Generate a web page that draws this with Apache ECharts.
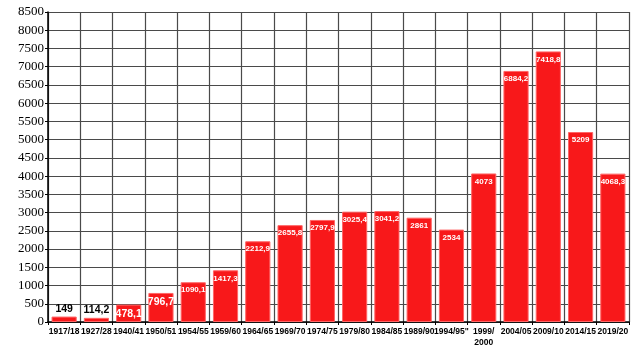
<!DOCTYPE html>
<html><head><meta charset="utf-8">
<script src="https://cdn.jsdelivr.net/npm/echarts@6/dist/echarts.min.js"></script>
<style>html,body{margin:0;padding:0;background:#fff}#c{width:644px;height:348px}</style>
</head><body><div id="c"></div>
<script>
const categories = ["1917/18","1927/28","1940/41","1950/51","1954/55","1959/60","1964/65","1969/70","1974/75","1979/80","1984/85","1989/90","1994/95\"","1999/\n2000","2004/05","2009/10","2014/15","2019/20"];
const values = [149,114.2,478.1,796.7,1090.1,1417.3,2212.9,2655.8,2797.9,3025.4,3041.2,2861,2534,4073,6884.2,7418.8,5209,4068.3];
const yTicks = [0,500,1000,1500,2000,2500,3000,3500,4000,4500,5000,5500,6000,6500,7000,7500,8000,8500];

const fmt = v => String(v).replace('.', ',');
const data = values.map((v, i) => {
  let label;
  if (v < 300) {
    label = {show:true, position:'top', color:'#000', fontWeight:'bold', fontSize:10.5, fontFamily:'Arial, Liberation Sans', distance:2};
  } else if (v < 1000) {
    label = {show:true, position:'insideTop', color:'#fff', fontWeight:'bold', fontSize:10.5, fontFamily:'Arial, Liberation Sans', distance:4};
  } else {
    label = {show:true, position:'insideTop', color:'#fff', fontWeight:'bold', fontSize:8, fontFamily:'Arial, Liberation Sans', distance:4};
  }
  return {value:v, label};
});

const chart = echarts.init(document.getElementById('c'));
chart.setOption({
  animation:false,
  grid:{left:48, right:15, top:12, bottom:18},
  xAxis:{
    type:'category', data:categories,
    axisLine:{lineStyle:{color:'#000', width:1.5}},
    axisTick:{show:true, length:3, lineStyle:{color:'#000'}},
    splitLine:{show:true, lineStyle:{color:'#4a4a4a', width:1.2}},
    axisLabel:{color:'#000', fontWeight:'bold', fontSize:8.5, fontFamily:'Arial, Liberation Sans', margin:4, interval:0, lineHeight:11}
  },
  yAxis:{
    type:'value', min:yTicks[0], max:yTicks[yTicks.length-1], interval:500,
    axisLine:{show:true, lineStyle:{color:'#000', width:1.5}},
    axisTick:{show:true, length:3, lineStyle:{color:'#000'}},
    splitLine:{show:true, lineStyle:{color:'#4a4a4a', width:1.2}},
    axisLabel:{color:'#000', fontSize:13, fontFamily:'Liberation Serif, Times New Roman, serif', margin:4, formatter: v => String(v)}
  },
  series:[{
    type:'bar', data:data,
    barCategoryGap:'22%',
    itemStyle:{color:'#f8181a', borderColor:'#ff6666', borderWidth:1},
    label:{formatter: p => fmt(p.value)}
  }]
});
</script></body></html>
